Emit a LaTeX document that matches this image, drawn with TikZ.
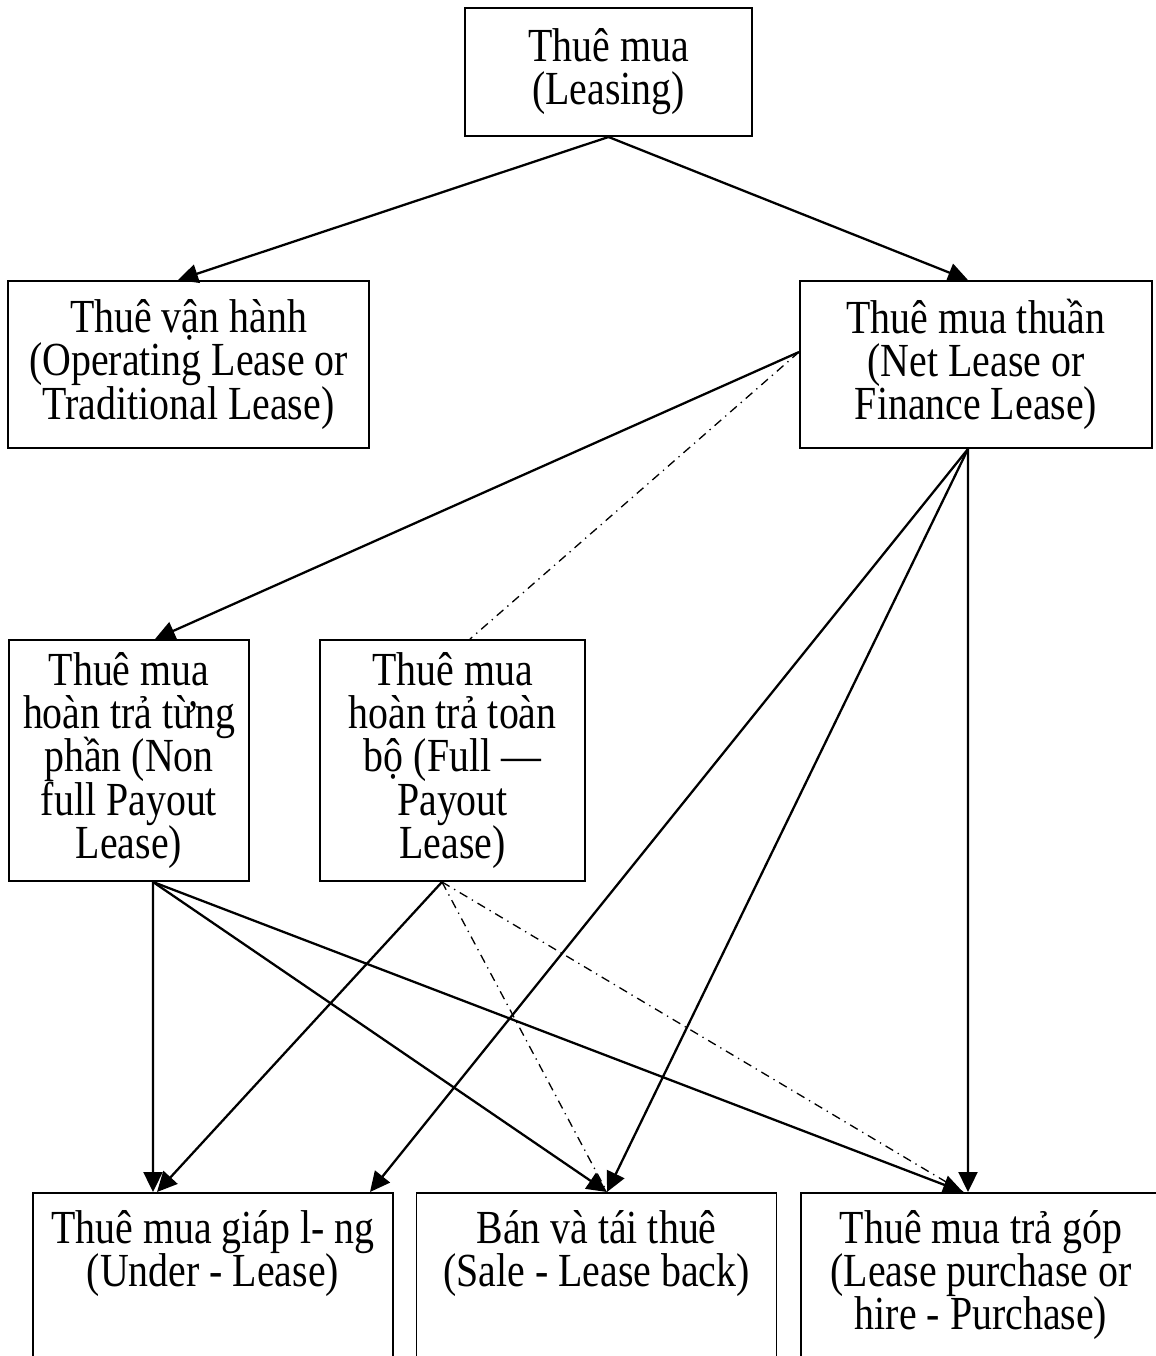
\documentclass[tikz,border=0pt]{standalone}
\usepackage{fontspec}
\setmainfont{Liberation Serif}[FakeStretch=0.84]
\usetikzlibrary{arrows.meta}

\newcommand{\leasefont}{\fontsize{27pt}{24.5pt}\selectfont\lineskiplimit=-30pt\relax}

\tikzset{
  leasebox/.style={draw, line width=1.1pt, align=center, inner sep=0pt, font=\leasefont},
  footbox/.style={leasebox, anchor=north, minimum width=7.2cm, inner ysep=10pt, text depth=4cm},
  arr/.style={line width=1.3pt, -{Triangle[length=0.4cm, width=0.38cm]}},
  dashdot/.style={line width=0.75pt, dash pattern=on 5pt off 3pt on 0.75pt off 3pt}
}

\begin{document}
\begin{tikzpicture}
  \useasboundingbox (0,0) rectangle (23.12,-27.12);

  % Boxes
  \node[leasebox, minimum width=5.74cm, minimum height=2.56cm] (lease) at (12.17,-1.44) {Thuê mua\\(Leasing)};
  \node[leasebox, minimum width=7.22cm, minimum height=3.34cm] (oper) at (3.77,-7.29) {Thuê vận hành\\(Operating Lease or\\Traditional Lease)};
  \node[leasebox, minimum width=7.04cm, minimum height=3.34cm] (net) at (19.52,-7.29) {Thuê mua thuần\\(Net Lease or\\Finance Lease)};
  \node[leasebox, minimum width=4.8cm, minimum height=4.82cm] (nonfull) at (2.58,-15.21) {Thuê mua\\hoàn trả từng\\phần (Non\\full Payout\\Lease)};
  \node[leasebox, minimum width=5.3cm, minimum height=4.82cm] (full) at (9.05,-15.21) {Thuê mua\\hoàn trả toàn\\bộ (Full —\\Payout\\Lease)};
  \node[footbox] (under) at (4.26,-23.84) {Thuê mua giáp l- ng\\(Under - Lease)};
  \node[footbox] (sale) at (11.93,-23.84) {Bán và tái thuê\\(Sale - Lease back)};
  \node[footbox] (hire) at (19.62,-23.84) {Thuê mua trả góp\\(Lease purchase or\\hire - Purchase)};

  % Connector ends
  \coordinate (oper-t) at ([xshift=-0.21cm]oper.north);
  \coordinate (net-t) at ([xshift=-0.16cm]net.north);
  \coordinate (net-l) at ([yshift=0.25cm]net.west);
  \coordinate (net-b) at ([xshift=-0.16cm]net.south);
  \coordinate (nonfull-t) at ([xshift=0.52cm]nonfull.north);
  \coordinate (nonfull-b) at ([xshift=0.48cm]nonfull.south);
  \coordinate (full-t) at ([xshift=0.35cm]full.north);
  \coordinate (full-b) at ([xshift=-0.21cm]full.south);
  \coordinate (under-a) at ([xshift=-1.2cm]under.north);
  \coordinate (under-b) at ([xshift=-1.12cm]under.north);
  \coordinate (under-c) at ([xshift=3.14cm]under.north);
  \coordinate (sale-t) at ([xshift=0.21cm]sale.north);
  \coordinate (hire-a) at ([xshift=-0.26cm]hire.north);
  \coordinate (hire-b) at ([xshift=-0.36cm]hire.north);

  % Top level
  \draw[arr] (lease.south) -- (oper-t);
  \draw[arr] (lease.south) -- (net-t);

  % Net lease
  \draw[arr] (net-l) -- (nonfull-t);
  \draw[dashdot] (net-l) -- (full-t);
  \foreach \t in {under-c, sale-t, hire-a}
    \draw[arr] (net-b) -- (\t);

  % Non full payout
  \foreach \t in {under-a, sale-t, hire-b}
    \draw[arr] (nonfull-b) -- (\t);

  % Full payout
  \draw[arr] (full-b) -- (under-b);
  \foreach \t in {sale-t, hire-b}
    \draw[dashdot] (full-b) -- (\t);
\end{tikzpicture}
\end{document}
